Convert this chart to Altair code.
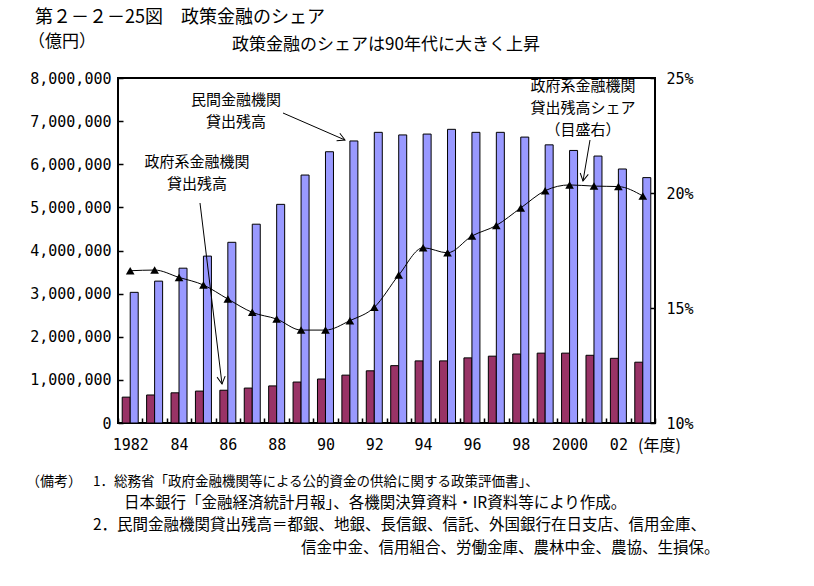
import math
import altair as alt
import pandas as pd

# ---------------- data ----------------
years = list(range(1982, 2004))
gov_loans = [600000, 650000, 700000, 740000, 760000, 810000, 860000, 950000,
             1020000, 1110000, 1210000, 1330000, 1440000, 1440000, 1510000,
             1550000, 1600000, 1620000, 1620000, 1570000, 1500000, 1410000]
priv_loans = [3030000, 3290000, 3590000, 3870000, 4190000, 4610000, 5070000,
              5750000, 6290000, 6540000, 6740000, 6680000, 6700000, 6810000,
              6740000, 6740000, 6630000, 6450000, 6320000, 6190000, 5890000,
              5690000]
gov_share = [16.62, 16.65, 16.33, 16.00, 15.39, 14.81, 14.52, 14.04, 14.04,
             14.45, 15.03, 16.43, 17.62, 17.40, 18.13, 18.59, 19.35, 20.10,
             20.35, 20.30, 20.28, 19.87]

series_keys = ["gov", "priv"]
series_colors = ["#993366", "#9999FF"]

tick_years = [1982, 1984, 1986, 1988, 1990, 1992, 1994, 1996, 1998, 2000, 2002]
tick_texts = ["1982", "84", "86", "88", "90", "92", "94", "96", "98", "2000", "02"]
left_ticks = [0, 1000000, 2000000, 3000000, 4000000, 5000000, 6000000,
              7000000, 8000000]
right_ticks = [10, 15, 20, 25]

title_text = "第２－２－25図　政策金融のシェア"
unit_text = "（億円）"
subtitle_text = "政策金融のシェアは90年代に大きく上昇"
xunit_text = "(年度)"
ann_priv = ["民間金融機関", "貸出残高"]
ann_gov = ["政府系金融機関", "貸出残高"]
ann_share = ["政府系金融機関", "貸出残高シェア", "（目盛右）"]
notes = [
    "（備考）",
    "1．総務省「政府金融機関等による公的資金の供給に関する政策評価書」、",
    "日本銀行「金融経済統計月報」、各機関決算資料・IR資料等により作成。",
    "2．民間金融機関貸出残高＝都銀、地銀、長信銀、信託、外国銀行在日支店、信用金庫、",
    "信金中金、信用組合、労働金庫、農林中金、農協、生損保。",
]

# ---------------- layout ----------------
W, H = 537, 345
JP = "Noto Sans CJK JP"
MONO = "DejaVu Sans Mono"
step = W / len(years)
bar_px = 8
offset_pad = (step / bar_px - 2) / 2

bars_df = pd.DataFrame({
    "year": years * 2,
    "series": ["gov"] * len(years) + ["priv"] * len(years),
    "value": gov_loans + priv_loans,
})
share_df = pd.DataFrame({"year": years, "share": gov_share})
one = pd.DataFrame({"k": [0]})

label_expr = " : ".join(
    f"datum.value == {y} ? '{t}'" for y, t in zip(tick_years, tick_texts)
) + " : ''"

bars = alt.Chart(bars_df).mark_bar(stroke="black", strokeWidth=1).encode(
    x=alt.X("year:O",
            scale=alt.Scale(paddingInner=0, paddingOuter=0),
            axis=alt.Axis(title=None, labelExpr=label_expr, labelAngle=0,
                          tickBand="extent", tickSize=5, offset=-5,
                          domain=False, grid=False, labelPadding=14,
                          labelFont=MONO, labelFontSize=15,
                          labelColor="black", tickColor="black",
                          tickWidth=1.5)),
    xOffset=alt.XOffset("series:N",
                        scale=alt.Scale(domain=series_keys, paddingInner=0,
                                        paddingOuter=offset_pad)),
    y=alt.Y("value:Q",
            scale=alt.Scale(domain=[0, 8000000], nice=False),
            axis=alt.Axis(orient="left", values=left_ticks, format=",d",
                          title=None, offset=-5, tickSize=5, domain=False,
                          grid=False, labelPadding=7, labelFont=MONO,
                          labelFontSize=15, labelColor="black",
                          tickColor="black", tickWidth=1.5)),
    color=alt.Color("series:N",
                    scale=alt.Scale(domain=series_keys, range=series_colors),
                    legend=None),
)

share_line = alt.Chart(share_df).mark_line(
    color="black", strokeWidth=1, interpolate="monotone"
).encode(
    x=alt.X("year:O"),
    y=alt.Y("share:Q",
            scale=alt.Scale(domain=[10, 25], nice=False, zero=False),
            axis=alt.Axis(orient="right", values=right_ticks,
                          labelExpr="datum.value + '%'", title=None,
                          offset=-5, tickSize=5, domain=False, grid=False,
                          labelPadding=11, labelFont=MONO, labelFontSize=15,
                          labelColor="black", tickColor="black",
                          tickWidth=1.5)),
)
share_pts = share_line.mark_point(shape="triangle-up", filled=True,
                                  color="black", size=75, opacity=1)


def text(t, x, y, size=15, align="center", font=JP):
    return alt.Chart(one).mark_text(
        text=t, align=align, baseline="middle", font=font, fontSize=size,
        color="black"
    ).encode(x=alt.value(x), y=alt.value(y))


def arrow(x1, y1, x2, y2):
    ang = math.degrees(math.atan2(x2 - x1, -(y2 - y1))) % 360
    shaft = alt.Chart(one).mark_rule(color="black", strokeWidth=1).encode(
        x=alt.value(x1), y=alt.value(y1), x2=alt.value(x2), y2=alt.value(y2))
    head = alt.Chart(one).mark_point(
        shape="M-0.55,1L0,0L0.55,1", filled=False, stroke="black",
        strokeWidth=1, size=220, angle=ang, opacity=1
    ).encode(x=alt.value(x2), y=alt.value(y2))
    return [shaft, head]


decor = [
    text(title_text, -83, -60, size=18, align="left"),
    text(unit_text, -90, -36, size=17, align="left"),
    text(subtitle_text, 268, -33, size=17),
    text(xunit_text, 520, 368, size=16, align="left"),
    text(ann_priv[0], 118, 22), text(ann_priv[1], 118, 44),
    text(ann_gov[0], 79, 84), text(ann_gov[1], 79, 106),
    text(ann_share[0], 465, 8), text(ann_share[1], 465, 30),
    text(ann_share[2], 465, 52),
    text(notes[0], -92, 404, size=14, align="left"),
    text(notes[1], -25, 404, size=13.5, align="left"),
    text(notes[2], 6, 425, size=15.5, align="left"),
    text(notes[3], -25, 447, size=15.5, align="left"),
    text(notes[4], 183, 470, size=15.5, align="left"),
]
decor += arrow(165, 35, 227, 62)
decor += arrow(82, 125, 104, 306)
decor += arrow(472, 62, 465, 103)

chart = alt.layer(
    bars, alt.layer(share_line, share_pts), *decor
).resolve_scale(y="independent").properties(
    width=W, height=H,
    autosize=alt.AutoSizeParams(type="none"),
    padding={"left": 118, "top": 78, "right": 159, "bottom": 163},
    background="white",
).configure_view(stroke="black", strokeWidth=2)

chart.save("out.html", embed_options={"renderer": "svg", "actions": False})
